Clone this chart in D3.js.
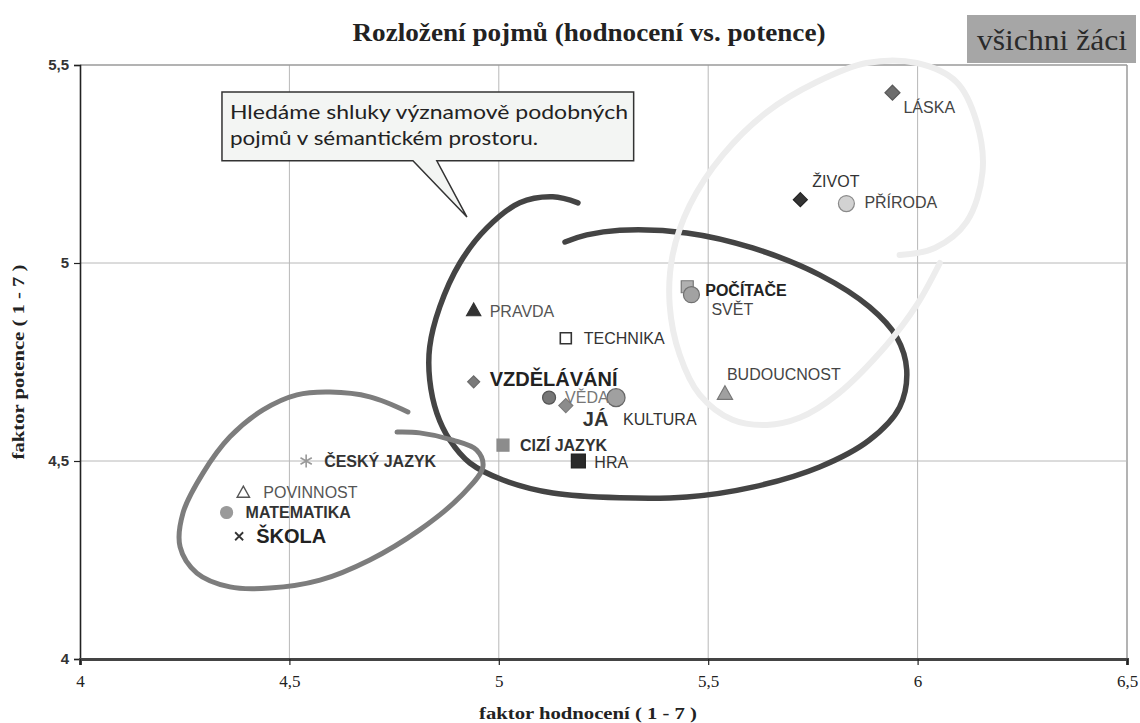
<!DOCTYPE html>
<html><head><meta charset="utf-8">
<script src="https://cdn.jsdelivr.net/npm/d3@7"></script>
<style>html,body{margin:0;padding:0;background:#fff;}svg{display:block;}</style>
</head><body>
<svg id="chart" width="1140" height="723"></svg>
<script>
// ---------- data ----------
const pojmy = ["LÁSKA","ŽIVOT","PŘÍRODA","POČÍTAČE","SVĚT","PRAVDA","TECHNIKA","VZDĚLÁVÁNÍ","VĚDA","JÁ","KULTURA","BUDOUCNOST","CIZÍ JAZYK","HRA","ČESKÝ JAZYK","POVINNOST","MATEMATIKA","ŠKOLA"];
const hodnoceni = [5.94,5.72,5.83,5.45,5.46,4.94,5.16,4.94,5.12,5.16,5.28,5.54,5.01,5.19,4.54,4.39,4.35,4.38];
const potence   = [5.43,5.16,5.15,4.94,4.92,4.88,4.81,4.70,4.66,4.64,4.66,4.67,4.54,4.50,4.50,4.42,4.37,4.31];
const xTicks = [4,4.5,5,5.5,6,6.5];
const yTicks = [4,4.5,5,5.5];
const titleText = "Rozložení pojmů (hodnocení vs. potence)";
const groupText = "všichni žáci";
const xTitle = "faktor hodnocení ( 1 - 7 )";
const yTitle = "faktor potence ( 1 - 7 )";
const calloutLines = ["Hledáme shluky významově podobných","pojmů v sémantickém prostoru."];
// hand-drawn cluster loops (data units)
const loopDarkX = [5.189,5.129,5.050,4.971,4.907,4.859,4.835,4.835,4.852,4.883,4.931,5.010,5.129,5.289,5.449,5.606,5.766,5.885,5.957,5.974,5.950,5.885,5.766,5.606,5.449,5.289,5.210,5.158];
const loopDarkY = [5.152,5.167,5.152,5.088,5.000,4.889,4.788,4.705,4.621,4.553,4.495,4.452,4.419,4.407,4.409,4.434,4.485,4.553,4.636,4.730,4.813,4.889,4.970,5.038,5.076,5.083,5.071,5.053];
const loopMidX = [4.783,4.692,4.597,4.518,4.437,4.358,4.294,4.246,4.239,4.279,4.358,4.453,4.573,4.692,4.811,4.907,4.962,4.947,4.890,4.811,4.757];
const loopMidY = [4.624,4.662,4.674,4.667,4.629,4.561,4.470,4.369,4.283,4.217,4.182,4.179,4.199,4.250,4.326,4.409,4.485,4.528,4.553,4.571,4.573];
const loopLightX = [5.957,6.041,6.117,6.155,6.141,6.093,5.998,5.878,5.759,5.640,5.535,5.456,5.415,5.408,5.432,5.480,5.558,5.640,5.718,5.807,5.926,5.998,6.053];
const loopLightY = [5.020,5.038,5.104,5.230,5.356,5.457,5.505,5.505,5.457,5.381,5.273,5.146,5.020,4.894,4.768,4.667,4.604,4.591,4.609,4.667,4.793,4.894,5.000];
// callout bubble (data units): box corners, pointer base and tip
const calloutBoxX = [4.339,5.322];
const calloutBoxY = [5.432,5.258];
const calloutTailX = [4.795,4.924,4.852];
const calloutTailY = [5.258,5.116,5.258];

// ---------- styles ----------
const markerStyle = {
  "LÁSKA":{s:"diamond",r:7.5,fill:"#6e6e6e",stroke:"#5a5a5a"},
  "ŽIVOT":{s:"diamond",r:7,fill:"#333",stroke:"#222"},
  "PŘÍRODA":{s:"circle",r:8,fill:"#d2d2d2",stroke:"#8a8a8a"},
  "POČÍTAČE":{s:"square",r:6,fill:"#b0b0b0",stroke:"#777"},
  "SVĚT":{s:"circle",r:8,fill:"#a2a2a2",stroke:"#707070"},
  "PRAVDA":{s:"triangle",r:7.5,fill:"#333",stroke:"#333"},
  "TECHNIKA":{s:"square",r:5.5,fill:"#fff",stroke:"#333",sw:1.6},
  "VZDĚLÁVÁNÍ":{s:"diamond",r:6,fill:"#7a7a7a",stroke:"#6a6a6a"},
  "VĚDA":{s:"circle",r:6.5,fill:"#777",stroke:"#555"},
  "JÁ":{s:"diamond",r:7,fill:"#8c8c8c",stroke:"#7a7a7a"},
  "KULTURA":{s:"circle",r:9,fill:"#a0a0a0",stroke:"#666"},
  "BUDOUCNOST":{s:"triangle",r:8,fill:"#a0a0a0",stroke:"#777"},
  "CIZÍ JAZYK":{s:"square",r:6,fill:"#8c8c8c",stroke:"#8c8c8c"},
  "HRA":{s:"square",r:7,fill:"#2a2a2a",stroke:"#222"},
  "ČESKÝ JAZYK":{s:"asterisk",r:6.5,fill:"none",stroke:"#999",sw:1.6},
  "POVINNOST":{s:"triangle",r:6.5,fill:"#fff",stroke:"#555",sw:1.4},
  "MATEMATIKA":{s:"circle",r:6,fill:"#9a9a9a",stroke:"#9a9a9a"},
  "ŠKOLA":{s:"x",r:4,fill:"none",stroke:"#333",sw:1.8}
};
const labelStyle = {
  "LÁSKA":{dx:11,dy:15,size:16,w:400,c:"#444"},
  "ŽIVOT":{dx:12,dy:-18,size:16,w:400,c:"#333"},
  "PŘÍRODA":{dx:18,dy:-1,size:16,w:400,c:"#444"},
  "POČÍTAČE":{dx:18,dy:3,size:16,w:700,c:"#222"},
  "SVĚT":{dx:20,dy:15,size:16,w:400,c:"#444"},
  "PRAVDA":{dx:16,dy:1,size:16,w:400,c:"#555"},
  "TECHNIKA":{dx:18,dy:0,size:16,w:400,c:"#333"},
  "VZDĚLÁVÁNÍ":{dx:16,dy:-3,size:20,w:700,c:"#222"},
  "VĚDA":{dx:16,dy:0,size:16,w:400,c:"#777"},
  "JÁ":{dx:17,dy:13,size:20,w:700,c:"#333"},
  "KULTURA":{dx:7,dy:22,size:16,w:400,c:"#333"},
  "BUDOUCNOST":{dx:2,dy:-19,size:16,w:400,c:"#444"},
  "CIZÍ JAZYK":{dx:17,dy:0,size:16,w:700,c:"#333"},
  "HRA":{dx:16,dy:1,size:16,w:400,c:"#333"},
  "ČESKÝ JAZYK":{dx:18,dy:0,size:16,w:700,c:"#333"},
  "POVINNOST":{dx:20,dy:0,size:16,w:400,c:"#555"},
  "MATEMATIKA":{dx:19,dy:0,size:16,w:700,c:"#333"},
  "ŠKOLA":{dx:17,dy:0,size:20,w:700,c:"#222"}
};

// ---------- layout ----------
const svg = d3.select("#chart");
const x = d3.scaleLinear().domain([4,6.5]).range([80,1127]);
const y = d3.scaleLinear().domain([4,5.5]).range([659,65]);
const SANS = "'Liberation Sans', Arial, sans-serif";
const SERIF = "'Liberation Serif', 'Times New Roman', serif";

// gridlines
svg.append("g").selectAll("line.v").data(xTicks.filter(d=>d>4)).join("line")
  .attr("x1",d=>x(d)).attr("x2",d=>x(d)).attr("y1",y(5.5)).attr("y2",y(4))
  .attr("stroke",d=>d===6.5?"#9a9a9a":"#b8b8b8").attr("stroke-width",d=>d===6.5?1.5:1);
svg.append("g").selectAll("line.h").data(yTicks.filter(d=>d>4)).join("line")
  .attr("x1",x(4)).attr("x2",x(6.5)).attr("y1",d=>y(d)).attr("y2",d=>y(d))
  .attr("stroke",d=>d===5.5?"#9a9a9a":"#b8b8b8").attr("stroke-width",d=>d===5.5?1.5:1);

// axes
const yAxis = d3.axisLeft(y).tickValues(yTicks).tickSize(6).tickFormat(d=>String(d).replace(".",","));
const gy = svg.append("g").attr("transform",`translate(${x(4)},0)`).call(yAxis);
gy.select(".domain").attr("stroke","#222").attr("stroke-width",1.6);
gy.selectAll(".tick line").attr("stroke","#222").attr("stroke-width",1.2);
gy.selectAll(".tick text").attr("font-family",SANS).attr("font-size",15).attr("font-weight",700).attr("fill","#333").attr("x",-11);

const xAxis = d3.axisBottom(x).tickValues(xTicks).tickSize(6).tickSizeOuter(6).tickFormat(d=>String(d).replace(".",","));
const gx = svg.append("g").attr("transform",`translate(0,${y(4)})`).call(xAxis);
gx.select(".domain").attr("stroke","#444").attr("stroke-width",3);
gx.selectAll(".tick line").attr("stroke","#222").attr("stroke-width",1.2);
gx.selectAll(".tick text").attr("font-family",SERIF).attr("font-size",17).attr("fill","#222").attr("y",16);

// loops
const line = d3.line().x(d=>x(d[0])).y(d=>y(d[1])).curve(d3.curveCatmullRom.alpha(0.5));
function drawLoop(xs,ys,color,width){
  svg.append("path").datum(xs.map((v,i)=>[v,ys[i]])).attr("d",line)
    .attr("fill","none").attr("stroke",color).attr("stroke-width",width)
    .attr("stroke-linecap","round").attr("stroke-linejoin","round");
}
drawLoop(loopDarkX,loopDarkY,"#444",5.5);
drawLoop(loopMidX,loopMidY,"#7d7d7d",5);
drawLoop(loopLightX,loopLightY,"#ededed",6);

// markers
function markerPath(s,r){
  switch(s){
    case "diamond": return `M0,${-r}L${r},0L0,${r}L${-r},0Z`;
    case "square": return `M${-r},${-r}H${r}V${r}H${-r}Z`;
    case "triangle": return `M0,${-r}L${r*0.95},${r*0.7}L${-r*0.95},${r*0.7}Z`;
    case "x": return `M${-r},${-r}L${r},${r}M${r},${-r}L${-r},${r}`;
    case "asterisk": {
      const a=r*0.87,b=r*0.5;
      return `M0,${-r}V${r}M${-a},${-b}L${a},${b}M${a},${-b}L${-a},${b}`;
    }
  }
  return null;
}
const pts = pojmy.map((n,i)=>({name:n,hx:hodnoceni[i],py:potence[i]}));
const gm = svg.append("g");
pts.forEach(p=>{
  const st = markerStyle[p.name];
  const cx = x(p.hx), cy = y(p.py);
  if(st.s==="circle"){
    gm.append("circle").attr("cx",cx).attr("cy",cy).attr("r",st.r)
      .attr("fill",st.fill).attr("stroke",st.stroke).attr("stroke-width",st.sw||1.2);
  } else {
    gm.append("path").attr("transform",`translate(${cx},${cy})`).attr("d",markerPath(st.s,st.r))
      .attr("fill",st.fill).attr("stroke",st.stroke).attr("stroke-width",st.sw||1.2);
  }
});
// labels
svg.append("g").selectAll("text").data(pts).join("text")
  .attr("x",d=>x(d.hx)+labelStyle[d.name].dx)
  .attr("y",d=>y(d.py)+labelStyle[d.name].dy)
  .attr("dy","0.36em")
  .attr("font-family",SANS)
  .attr("font-size",d=>labelStyle[d.name].size)
  .attr("font-weight",d=>labelStyle[d.name].w)
  .attr("fill",d=>labelStyle[d.name].c)
  .text(d=>d.name);

// callout bubble
const bx0=x(calloutBoxX[0]), bx1=x(calloutBoxX[1]), by0=y(calloutBoxY[0]), by1=y(calloutBoxY[1]);
const t0=[x(calloutTailX[0]),y(calloutTailY[0])], t1=[x(calloutTailX[1]),y(calloutTailY[1])], t2=[x(calloutTailX[2]),y(calloutTailY[2])];
svg.append("path")
  .attr("d",`M${bx0},${by0}H${bx1}V${by1}H${t2[0]}L${t1[0]},${t1[1]}L${t0[0]},${by1}H${bx0}Z`)
  .attr("fill","#f3f5f3").attr("stroke","#333").attr("stroke-width",1.5);
svg.append("g").selectAll("text").data(calloutLines).join("text")
  .attr("x",bx0+8).attr("y",(d,i)=>by0+27+i*26)
  .attr("font-family","Lato, 'Open Sans', sans-serif").attr("font-size",20).attr("fill","#222")
  .attr("textLength",(d,i)=>i===0?398:308).attr("lengthAdjust","spacingAndGlyphs")
  .text(d=>d);

// title
svg.append("text").attr("x",589).attr("y",41).attr("text-anchor","middle")
  .attr("font-family",SERIF).attr("font-weight",700).attr("font-size",25).attr("fill","#222")
  .attr("textLength",473).attr("lengthAdjust","spacingAndGlyphs").text(titleText);
// group box
svg.append("rect").attr("x",967).attr("y",15).attr("width",169).attr("height",48).attr("fill","#a6a6a6");
svg.append("text").attr("x",1052).attr("y",50).attr("text-anchor","middle")
  .attr("font-family",SERIF).attr("font-size",29).attr("fill","#2a2a2a")
  .attr("textLength",150).attr("lengthAdjust","spacingAndGlyphs").text(groupText);

// axis titles
svg.append("text").attr("x",588).attr("y",719).attr("text-anchor","middle")
  .attr("font-family",SERIF).attr("font-weight",700).attr("font-size",17).attr("fill","#222")
  .attr("textLength",218).attr("lengthAdjust","spacingAndGlyphs").text(xTitle);
svg.append("text").attr("transform","translate(24,362) rotate(-90)").attr("text-anchor","middle")
  .attr("font-family",SERIF).attr("font-weight",700).attr("font-size",17).attr("fill","#222")
  .attr("textLength",195).attr("lengthAdjust","spacingAndGlyphs").text(yTitle);
</script>
</body></html>
